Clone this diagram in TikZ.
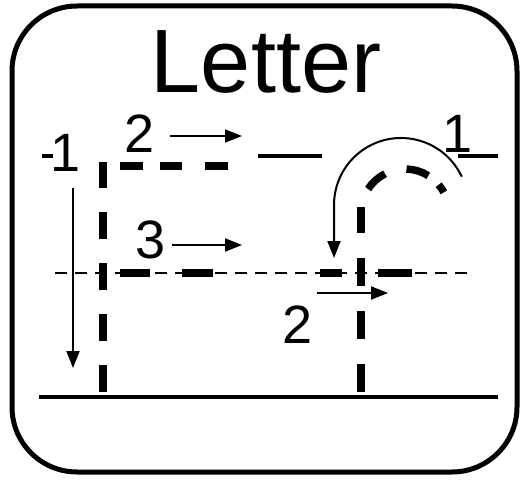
\documentclass[tikz,border=0pt]{standalone}
\usepackage{fontspec}
\setmainfont{Liberation Sans}
\usetikzlibrary{arrows.meta}
\tikzset{
	frame/.style={line width=5pt,rounded corners=65pt},
	guide/.style={line width=3.5pt},
	thinguide/.style={line width=1.5pt,dash pattern=on 12pt off 8pt},
	pen/.style={line width=7.5pt},
	arr/.style={-{Triangle[length=17pt,width=13pt]},line width=2pt},
	num/.style={inner sep=0pt,anchor=base,font=\fontsize{54}{54}\selectfont}
}
\begin{document}
\begin{tikzpicture}[x=1pt,y=1pt]
	\useasboundingbox (0,0) rectangle (522,480);
	\draw[frame] (12,8) rectangle (517,474);
	\node[inner sep=0pt,anchor=base,font=\fontsize{90}{90}\selectfont] (title) at (266,387) {Letter};
	% guide lines
	\foreach \a/\b in {42/53,258/322,458/498}\draw[guide](\a,324)--(\b,324);
	\draw[thinguide] (55,207) -- (473,207);
	\draw[guide] (39,83) -- (498,83);
	% dashed letter
	\draw[pen,dash pattern=on 27pt off 24pt] (103,88) -- (103,318);
	\foreach \a/\b in {120/143,160/182,205/228}\draw[pen](\a,314)--(\b,314);
	\foreach \a/\b in {120/150,182/213,320/342,378/412}\draw[pen](\a,207)--(\b,207);
	\draw[pen,dash pattern=on 28pt off 25pt] (361,88) -- (361,273);
	\foreach \a/\b in {147/117,88/58,40/28}\draw[pen](405,267) ++(\a:44) arc[start angle=\a,end angle=\b,radius=44];
	% stroke numbers
	\node[num] (one) at (66,308) {1};
	\node[num] (two) at (140,327) {2};
	\node[num] (three) at (150.5,222) {3};
	\node[num] (twob) at (297.5,137) {2};
	\node[num] (oneb) at (458,327) {1};
	% stroke arrows
	\draw[arr] (73,292) -- (73,112);
	\draw[arr] (170,344) -- (242,344);
	\draw[arr] (172,235) -- (242,235);
	\draw[arr] (317,187) -- (388,187);
	\draw[arr] (401,275) ++(25:67) arc[start angle=25,end angle=180,radius=67] -- (334,222);
\end{tikzpicture}
\end{document}
